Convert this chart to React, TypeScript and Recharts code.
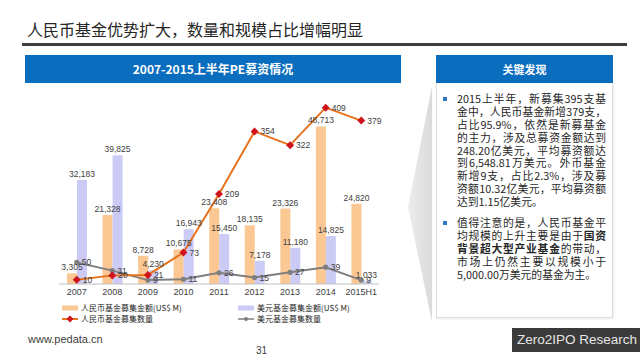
import React from 'react';
import { ComposedChart, Bar, Line, XAxis, YAxis, LabelList } from 'recharts';

const categories = ['2007', '2008', '2009', '2010', '2011', '2012', '2013', '2014', '2015H1'];
const rmbAmount = [3305, 21328, 8728, 10675, 23408, 18135, 23326, 48713, 24820];
const usdAmount = [32183, 39825, 4230, 16943, 15450, 7178, 11180, 14825, 1033];
const rmbCount = [10, 20, 21, 73, 209, 354, 322, 409, 379];
const usdCount = [50, 31, 9, 11, 26, 15, 27, 39, 9];
// category boundaries, used only for the small tick marks under the axis
const boundaryTicks = [0, 1, 2, 3, 4, 5, 6, 7, 8, 9];

const seriesNames = {
  rmbAmount: '人民币基金募集金额(US$ M)',
  usdAmount: '美元基金募集金额(US$ M)',
  rmbCount: '人民币基金募集数量',
  usdCount: '美元基金募集数量',
};

const data = categories.map((name, i) => ({
  name,
  rmbAmount: rmbAmount[i],
  usdAmount: usdAmount[i],
  rmbCount: rmbCount[i],
  usdCount: usdCount[i],
}));

const ORANGE_BAR = '#FBC793';
const PURPLE_BAR = '#CBCBF6';
const ORANGE_LINE = '#E8731F';
const RED_MARK = '#D0141E';
const GRAY_LINE = '#7F7F7F';
const BLUE = '#0B6DBE';
const CJK = '"Noto Sans CJK SC", "Noto Sans", sans-serif';
const LATIN = '"Liberation Sans", Arial, sans-serif';

const fmt = (v: any) => Number(v).toLocaleString('en-US');

const Diamond = (props: any) => {
  const { cx, cy } = props;
  if (cx == null || cy == null) return null;
  const r = 4;
  return (
    <polygon
      points={`${cx},${cy - r} ${cx + r},${cy} ${cx},${cy + r} ${cx - r},${cy}`}
      fill={RED_MARK}
    />
  );
};

const GrayDot = (props: any) => {
  const { cx, cy } = props;
  if (cx == null || cy == null) return null;
  return <circle cx={cx} cy={cy} r={2.6} fill={GRAY_LINE} />;
};

const labelStyle = { fontSize: 8.5, fill: '#404040', fontFamily: LATIN };

const bullet1 = [
  '2015上半年，新募集395支基',
  '金中，人民币基金新增379支，',
  '占比95.9%，依然是新募基金',
  '的主力，涉及总募资金额达到',
  '248.20亿美元，平均募资额达',
  '到6,548.81万美元。外币基金',
  '新增9支，占比2.3%，涉及募',
  '资额10.32亿美元，平均募资额',
  '达到1.15亿美元。',
];

function TextLine({ children, last }: { children: React.ReactNode; last?: boolean }) {
  return (
    <div
      style={{
        whiteSpace: 'nowrap',
        textAlign: 'justify',
        textAlignLast: last ? 'left' : 'justify',
        height: 12.9,
        lineHeight: '12.9px',
      }}
    >
      {children}
    </div>
  );
}

function LegendItem({ kind, color, label }: { kind: string; color: string; label: string }) {
  return (
    <div style={{ display: 'flex', alignItems: 'center', height: 11 }}>
      <svg width={16} height={8} style={{ marginRight: 3 }}>
        {kind === 'bar' && <rect x={0} y={1.5} width={16} height={5} fill={color} />}
        {kind === 'rmb' && (
          <>
            <line x1={0} y1={4} x2={16} y2={4} stroke={ORANGE_LINE} strokeWidth={2} />
            <polygon points="8,0.5 11.5,4 8,7.5 4.5,4" fill={RED_MARK} />
          </>
        )}
        {kind === 'usd' && (
          <>
            <line x1={0} y1={4} x2={16} y2={4} stroke={GRAY_LINE} strokeWidth={1.5} />
            <circle cx={8} cy={4} r={2} fill={GRAY_LINE} />
          </>
        )}
      </svg>
      <span style={{ fontFamily: CJK, fontSize: 8, color: '#262626' }}>{label}</span>
    </div>
  );
}

export default function App() {
  return (
    <div
      style={{
        position: 'absolute',
        left: 0,
        top: 0,
        width: 640,
        height: 360,
        background: '#ffffff',
        overflow: 'hidden',
        fontFamily: CJK,
      }}
    >
      {/* decorative chevron behind the panels */}
      <svg width={640} height={360} style={{ position: 'absolute', left: 0, top: 0 }}>
        <defs>
          <linearGradient id="chev" x1="0" y1="0" x2="1" y2="0">
            <stop offset="0%" stopColor="#EDEDED" />
            <stop offset="100%" stopColor="#DADADA" />
          </linearGradient>
        </defs>
        <polygon points="432,86 408,207 432,322" fill="url(#chev)" />
      </svg>

      <div
        style={{
          position: 'absolute',
          left: 27,
          top: 17,
          fontSize: 16,
          color: '#262626',
          whiteSpace: 'nowrap',
        }}
      >
        人民币基金优势扩大，数量和规模占比增幅明显
      </div>
      <div style={{ position: 'absolute', left: 22, top: 43, width: 605, height: 3, background: '#3E3E3E' }} />

      <div
        style={{
          position: 'absolute',
          left: 25,
          top: 55,
          width: 376,
          height: 28,
          background: BLUE,
          color: '#fff',
          fontWeight: 700,
          fontSize: 12,
          lineHeight: '28px',
          textAlign: 'center',
          whiteSpace: 'nowrap',
        }}
      >
        2007-2015上半年PE募资情况
      </div>

      <div
        style={{
          position: 'absolute',
          left: 436,
          top: 55,
          width: 177,
          height: 28,
          background: BLUE,
          color: '#fff',
          fontWeight: 700,
          fontSize: 11,
          lineHeight: '28px',
          textAlign: 'center',
        }}
      >
        关键发现
      </div>
      <div
        style={{
          position: 'absolute',
          left: 436,
          top: 83,
          width: 175,
          height: 234,
          border: '1px solid #DCDCDC',
          borderTop: 'none',
          background: '#fff',
          boxShadow: '1px 1px 2px rgba(0,0,0,0.08)',
        }}
      />
      <div style={{ position: 'absolute', left: 443, top: 97, width: 4, height: 4, background: '#2E78C0' }} />
      <div style={{ position: 'absolute', left: 443, top: 221, width: 4, height: 4, background: '#2E78C0' }} />
      <div style={{ position: 'absolute', left: 457, top: 92, width: 149, fontSize: 10.8, color: '#262626' }}>
        {bullet1.map((t, i) => (
          <TextLine key={i} last={i === bullet1.length - 1}>
            {t}
          </TextLine>
        ))}
        <div style={{ height: 8 }} />
        <TextLine>值得注意的是，人民币基金平</TextLine>
        <TextLine>
          均规模的上升主要是由于<b>国资</b>
        </TextLine>
        <TextLine>
          <b>背景超大型产业基金</b>的带动，
        </TextLine>
        <TextLine>市场上仍然主要以规模小于</TextLine>
        <TextLine last>5,000.00万美元的基金为主。</TextLine>
      </div>

      <div style={{ position: 'absolute', left: 0, top: 0 }}>
        <ComposedChart
          width={400}
          height={300}
          data={data}
          margin={{ top: 90, right: 21, bottom: 0, left: 59 }}
          barGap={0}
        >
          <XAxis
            dataKey="name"
            height={16}
            axisLine={{ stroke: '#BFBFBF' }}
            tickLine={false}
            tickSize={3}
            tick={{ fontSize: 9, fill: '#404040', fontFamily: LATIN }}
            interval={0}
          />
          <XAxis
            xAxisId="bounds"
            type="number"
            domain={[0, 9]}
            ticks={boundaryTicks}
            height={0}
            axisLine={false}
            tick={false}
            tickSize={4}
            tickLine={{ stroke: '#BFBFBF' }}
          />
          <YAxis yAxisId="left" hide domain={[0, 60000]} />
          <YAxis yAxisId="right" hide orientation="right" domain={[0, 450]} />
          <Bar yAxisId="left" dataKey="rmbAmount" name={seriesNames.rmbAmount} fill={ORANGE_BAR} barSize={10} isAnimationActive={false}>
            <LabelList dataKey="rmbAmount" position="top" offset={3} formatter={fmt} style={labelStyle} />
          </Bar>
          <Bar yAxisId="left" dataKey="usdAmount" name={seriesNames.usdAmount} fill={PURPLE_BAR} barSize={10} isAnimationActive={false}>
            <LabelList dataKey="usdAmount" position="top" offset={3} formatter={fmt} style={labelStyle} />
          </Bar>
          <Line
            yAxisId="right"
            dataKey="usdCount"
            name={seriesNames.usdCount}
            stroke={GRAY_LINE}
            strokeWidth={2}
            dot={<GrayDot />}
            activeDot={false}
            isAnimationActive={false}
          >
            <LabelList dataKey="usdCount" position="right" offset={5} style={labelStyle} />
          </Line>
          <Line
            yAxisId="right"
            dataKey="rmbCount"
            name={seriesNames.rmbCount}
            stroke={ORANGE_LINE}
            strokeWidth={2}
            dot={<Diamond />}
            activeDot={false}
            isAnimationActive={false}
          >
            <LabelList dataKey="rmbCount" position="right" offset={6} style={labelStyle} />
          </Line>
        </ComposedChart>
      </div>

      <div style={{ position: 'absolute', left: 62, top: 302 }}>
        <LegendItem kind="bar" color={ORANGE_BAR} label={seriesNames.rmbAmount} />
        <LegendItem kind="rmb" color={ORANGE_LINE} label={seriesNames.rmbCount} />
      </div>
      <div style={{ position: 'absolute', left: 238, top: 302 }}>
        <LegendItem kind="bar" color={PURPLE_BAR} label={seriesNames.usdAmount} />
        <LegendItem kind="usd" color={GRAY_LINE} label={seriesNames.usdCount} />
      </div>

      <div style={{ position: 'absolute', left: 28, top: 333, fontFamily: LATIN, fontSize: 11, color: '#404040' }}>
        www.pedata.cn
      </div>
      <div style={{ position: 'absolute', left: 256, top: 345, fontFamily: LATIN, fontSize: 10, color: '#404040' }}>
        31
      </div>
      <div
        style={{
          position: 'absolute',
          left: 512,
          top: 328,
          width: 128,
          height: 24,
          background: '#3B3B3B',
          color: '#E6E6E6',
          fontFamily: LATIN,
          fontSize: 13.5,
          lineHeight: '24px',
          paddingLeft: 5,
          whiteSpace: 'nowrap',
          boxSizing: 'border-box',
        }}
      >
        Zero2IPO Research
      </div>
    </div>
  );
}
